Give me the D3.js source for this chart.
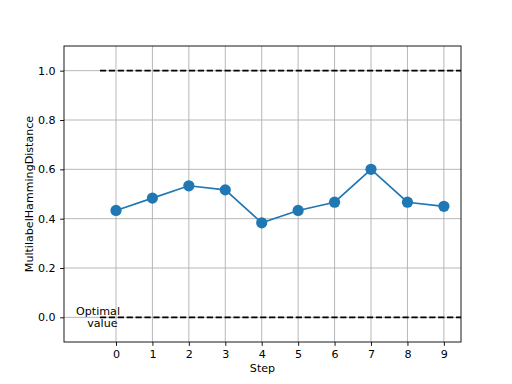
<!DOCTYPE html>
<html><head><meta charset="utf-8">
<script src="https://cdn.jsdelivr.net/npm/d3@7"></script>
<style>body{margin:0;background:#fff}text{font-family:"DejaVu Sans",sans-serif}</style>
</head><body><svg id="c" width="512" height="384"></svg>
<script>
const steps = [0,1,2,3,4,5,6,7,8,9];
const values = [0.4333,0.4833,0.5333,0.5167,0.3833,0.4333,0.4667,0.6,0.4667,0.45];
const xTicks = [0,1,2,3,4,5,6,7,8,9];
const yTicks = [0.0,0.2,0.4,0.6,0.8,1.0];
const refLines = [1.0, 0.0];
const refStart = -0.44;

const svg = d3.select("#c");
const L=64,R=461,T=46,B=342;
const x = d3.scaleLinear().domain([-1.427,9.47]).range([L,R]);
const y = d3.scaleLinear().domain([-0.1,1.1]).range([B,T]);
svg.append("rect").attr("width",512).attr("height",384).attr("fill","#fff");
const g = svg.append("g");
// grid
g.selectAll(".gx").data(xTicks).enter().append("line")
 .attr("x1",d=>x(d)).attr("x2",d=>x(d)).attr("y1",T).attr("y2",B)
 .attr("stroke","#b0b0b0").attr("stroke-width",0.9);
g.selectAll(".gy").data(yTicks).enter().append("line")
 .attr("y1",d=>y(d)).attr("y2",d=>y(d)).attr("x1",L).attr("x2",R)
 .attr("stroke","#b0b0b0").attr("stroke-width",0.9);
// ref lines
g.selectAll(".ref").data(refLines).enter().append("line")
 .attr("x1",x(refStart)).attr("x2",R).attr("y1",d=>y(d)).attr("y2",d=>y(d))
 .attr("stroke","#000").attr("stroke-width",1.67).attr("stroke-dasharray","6.2,2.7");
// series
const line = d3.line().x((d,i)=>x(steps[i])).y(d=>y(d));
g.append("path").datum(values).attr("d",line).attr("fill","none")
 .attr("stroke","#1f77b4").attr("stroke-width",1.67);
g.selectAll(".pt").data(values).enter().append("circle")
 .attr("cx",(d,i)=>x(steps[i])).attr("cy",d=>y(d)).attr("r",5.6).attr("fill","#1f77b4");
// axes
const xa = svg.append("g").attr("transform",`translate(0,${B})`)
 .call(d3.axisBottom(x).tickValues(xTicks).tickFormat(d3.format("d")).tickSize(3.9).tickPadding(4.5));
const ya = svg.append("g").attr("transform",`translate(${L},0)`)
 .call(d3.axisLeft(y).tickValues(yTicks).tickFormat(d3.format(".1f")).tickSize(3.9).tickPadding(4.5));
[xa,ya].forEach(a=>{a.select(".domain").remove();a.selectAll("text").attr("font-size",11.1).attr("fill","#000").attr("font-family","DejaVu Sans");a.selectAll("line").attr("stroke","#000").attr("stroke-width",0.9);});
svg.append("rect").attr("x",L).attr("y",T).attr("width",R-L).attr("height",B-T)
 .attr("fill","none").attr("stroke","#000").attr("stroke-width",0.9);
// labels
svg.append("text").attr("x",(L+R)/2).attr("y",372).attr("text-anchor","middle").attr("font-size",11.1).text("Step");
svg.append("text").attr("transform",`translate(33,${(T+B)/2}) rotate(-90)`).attr("text-anchor","middle").attr("font-size",11.1).text("MultilabelHammingDistance");
const opt = svg.append("text").attr("text-anchor","end").attr("font-size",11.1);
opt.append("tspan").attr("x",120).attr("y",315).text("Optimal");
opt.append("tspan").attr("x",117.5).attr("y",327).text("value");
</script></body></html>
